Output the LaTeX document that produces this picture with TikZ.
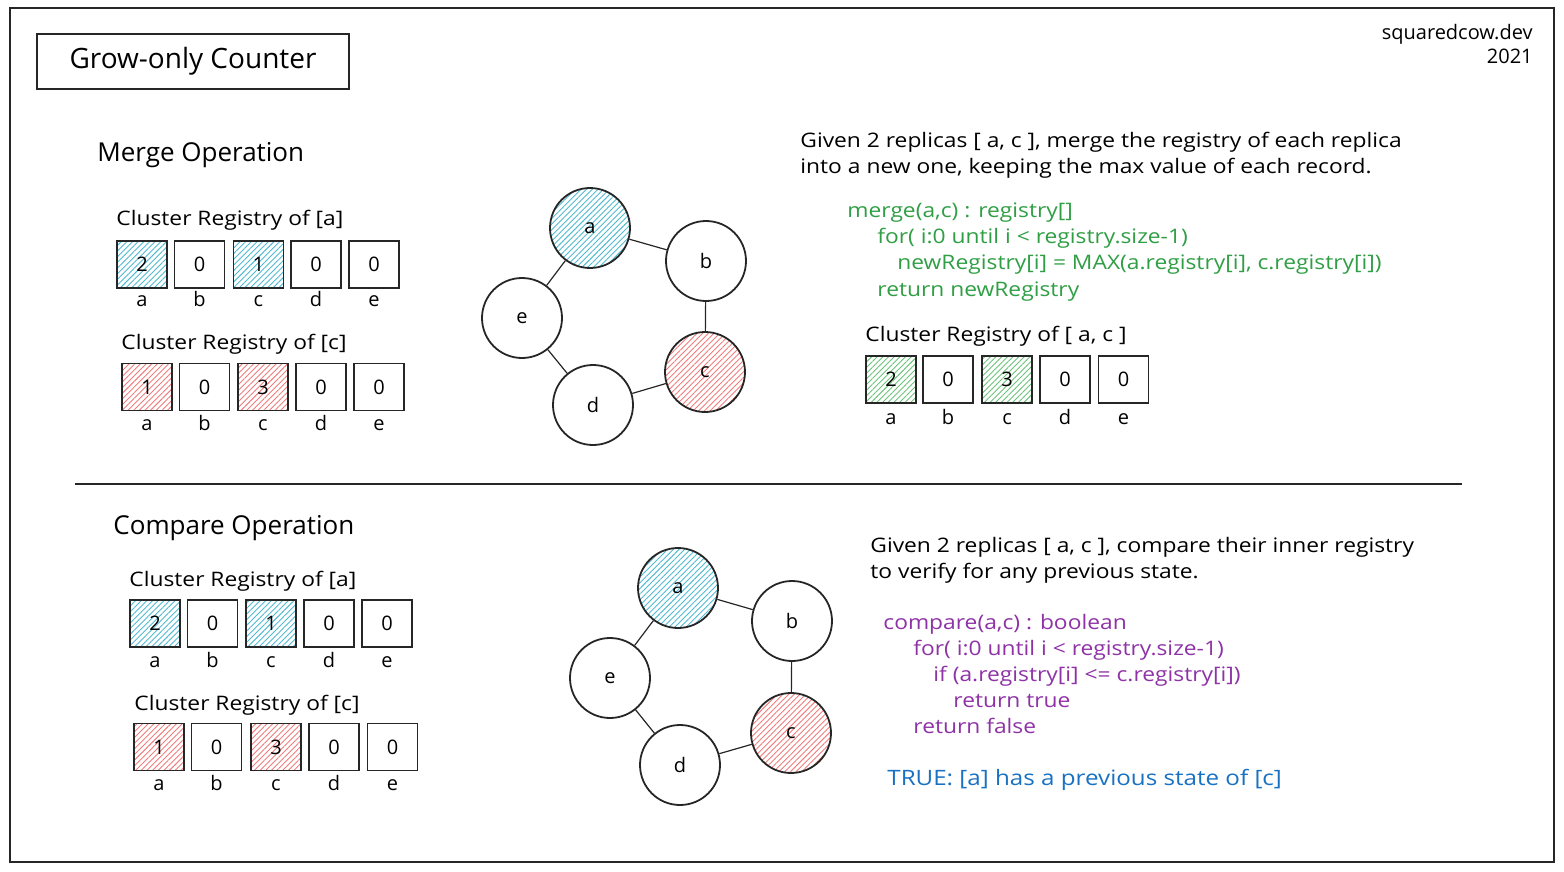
\documentclass[tikz,border=0pt]{standalone}
\usepackage{fontspec}
\setmainfont{Open Sans}
\newfontfamily\widefont{Open Sans}[FakeStretch=1.14]
\usetikzlibrary{patterns.meta}

\definecolor{hatchcyan}{HTML}{4FB9D1}
\definecolor{hatchred}{HTML}{F07C7C}
\definecolor{hatchgreen}{HTML}{6CC27A}
\definecolor{codegreen}{HTML}{2F9E44}
\definecolor{codepurple}{HTML}{8E32A6}
\definecolor{noteblue}{HTML}{1971C2}

\tikzset{
  sketch/.style={draw=black!85, line width=0.9pt},
  regbox/.style={sketch, minimum width=25pt, minimum height=23.5pt, inner sep=0pt, font=\fontsize{10}{12}\selectfont},
  hatch/.style={pattern={Lines[angle=45,distance=2pt,line width=0.45pt]}, pattern color=#1},
  replica/.style={sketch, circle, minimum size=40pt, inner sep=0pt, font=\fontsize{10}{12}\selectfont},
  idx/.style={anchor=base, font=\fontsize{10}{12}\selectfont},
  txt/.style={anchor=base west, inner sep=0pt, font=\widefont\fontsize{10}{12}\selectfont},
  heading/.style={anchor=base west, inner sep=0pt, font=\fontsize{13}{15}\selectfont},
  link/.style={draw=black!85, line width=0.6pt}
}

\begin{document}
\begin{tikzpicture}[x=0.5pt, y=-0.5pt]
		%%%%% START %%%%%
		\useasboundingbox (0, 0) rectangle (1564, 872);
		\draw[line width=0.9pt, black!85] (10, 8) rectangle (1554, 862);
		
		\node[sketch, minimum width=156pt, minimum height=27.5pt, font=\fontsize{14}{16}\selectfont] (title) at (193, 61.5) {Grow-only Counter};
		\node[anchor=base east, inner sep=0pt, font=\fontsize{10}{12}\selectfont] (site) at (1533, 40) {squaredcow.dev};
		\node[anchor=base east, inner sep=0pt, font=\fontsize{10}{12}\selectfont] (year) at (1533, 64) {2021};
		
		%%%%% MERGE %%%%%
		\node[heading] (mergehead) at (97, 162) {Merge Operation};
		
		\node[txt] (mregAtitle) at (116, 226) {Cluster Registry of [a]};
		\node[regbox, hatch=hatchcyan] (mA1) at (142, 264.5) {2};
		\node[regbox] (mA2) at (199.5, 264.5) {0};
		\node[regbox, hatch=hatchcyan] (mA3) at (258.5, 264.5) {1};
		\node[regbox] (mA4) at (316, 264.5) {0};
		\node[regbox] (mA5) at (374, 264.5) {0};
		\node[idx] (mAa) at (142, 306) {a};
		\node[idx] (mAb) at (199.5, 306) {b};
		\node[idx] (mAc) at (258.5, 306) {c};
		\node[idx] (mAd) at (316, 306) {d};
		\node[idx] (mAe) at (374, 306) {e};
		
		\node[txt] (mregCtitle) at (121, 349) {Cluster Registry of [c]};
		\node[regbox, hatch=hatchred] (mC1) at (147, 387) {1};
		\node[regbox] (mC2) at (204.5, 387) {0};
		\node[regbox, hatch=hatchred] (mC3) at (263, 387) {3};
		\node[regbox] (mC4) at (321, 387) {0};
		\node[regbox] (mC5) at (379, 387) {0};
		\node[idx] (mCa) at (147, 430) {a};
		\node[idx] (mCb) at (204.5, 430) {b};
		\node[idx] (mCc) at (263, 430) {c};
		\node[idx] (mCd) at (321, 430) {d};
		\node[idx] (mCe) at (379, 430) {e};
		
		\node[replica, hatch=hatchcyan] (ma) at (590, 228) {a};
		\node[replica] (mb) at (706, 261) {b};
		\node[replica, hatch=hatchred] (mc) at (705, 372) {c};
		\node[replica] (md) at (593, 405) {d};
		\node[replica] (me) at (522, 318) {e};
		\draw[link] (ma) -- (mb);
		\draw[link] (mb) -- (mc);
		\draw[link] (mc) -- (md);
		\draw[link] (md) -- (me);
		\draw[link] (me) -- (ma);
		
		\node[txt] (mgiven1) at (800, 148) {Given 2 replicas [ a, c ], merge the registry of each replica};
		\node[txt] (mgiven2) at (800, 174) {into a new one, keeping the max value of each record.};
		\node[txt, codegreen] (mcode1) at (847, 217) {merge(a,c) : registry[]};
		\node[txt, codegreen] (mcode2) at (877, 243) {for( i:0 until i < registry.size-1)};
		\node[txt, codegreen] (mcode3) at (897, 269) {newRegistry[i] = MAX(a.registry[i], c.registry[i])};
		\node[txt, codegreen] (mcode4) at (877, 296) {return newRegistry};
		
		\node[txt] (mregACtitle) at (865, 341) {Cluster Registry of [ a, c ]};
		\node[regbox, hatch=hatchgreen] (mR1) at (891, 379.5) {2};
		\node[regbox] (mR2) at (948, 379.5) {0};
		\node[regbox, hatch=hatchgreen] (mR3) at (1007, 379.5) {3};
		\node[regbox] (mR4) at (1065, 379.5) {0};
		\node[regbox] (mR5) at (1123.5, 379.5) {0};
		\node[idx] (mRa) at (891, 424) {a};
		\node[idx] (mRb) at (948, 424) {b};
		\node[idx] (mRc) at (1007, 424) {c};
		\node[idx] (mRd) at (1065, 424) {d};
		\node[idx] (mRe) at (1123.5, 424) {e};
		
		\draw[line width=0.9pt, black!85] (75, 484) -- (1462, 484);
		
		%%%%% COMPARE %%%%%
		\node[heading] (comphead) at (113, 534) {Compare Operation};
		
		\node[txt] (cregAtitle) at (129, 586) {Cluster Registry of [a]};
		\node[regbox, hatch=hatchcyan] (cA1) at (155, 623.5) {2};
		\node[regbox] (cA2) at (212.5, 623.5) {0};
		\node[regbox, hatch=hatchcyan] (cA3) at (271, 623.5) {1};
		\node[regbox] (cA4) at (329, 623.5) {0};
		\node[regbox] (cA5) at (387, 623.5) {0};
		\node[idx] (cAa) at (155, 667) {a};
		\node[idx] (cAb) at (212.5, 667) {b};
		\node[idx] (cAc) at (271, 667) {c};
		\node[idx] (cAd) at (329, 667) {d};
		\node[idx] (cAe) at (387, 667) {e};
		
		\node[txt] (cregCtitle) at (134, 710) {Cluster Registry of [c]};
		\node[regbox, hatch=hatchred] (cC1) at (159, 747) {1};
		\node[regbox] (cC2) at (216.5, 747) {0};
		\node[regbox, hatch=hatchred] (cC3) at (276, 747) {3};
		\node[regbox] (cC4) at (334, 747) {0};
		\node[regbox] (cC5) at (392.5, 747) {0};
		\node[idx] (cCa) at (159, 790) {a};
		\node[idx] (cCb) at (216.5, 790) {b};
		\node[idx] (cCc) at (276, 790) {c};
		\node[idx] (cCd) at (334, 790) {d};
		\node[idx] (cCe) at (392.5, 790) {e};
		
		\node[replica, hatch=hatchcyan] (ca) at (678, 588) {a};
		\node[replica] (cb) at (792, 621) {b};
		\node[replica, hatch=hatchred] (cc) at (791, 733) {c};
		\node[replica] (cd) at (680, 765) {d};
		\node[replica] (ce) at (610, 678) {e};
		\draw[link] (ca) -- (cb);
		\draw[link] (cb) -- (cc);
		\draw[link] (cc) -- (cd);
		\draw[link] (cd) -- (ce);
		\draw[link] (ce) -- (ca);
		
		\node[txt] (cgiven1) at (870, 552) {Given 2 replicas [ a, c ], compare their inner registry};
		\node[txt] (cgiven2) at (870, 578) {to verify for any previous state.};
		\node[txt, codepurple] (ccode1) at (883, 629) {compare(a,c) : boolean};
		\node[txt, codepurple] (ccode2) at (913, 655) {for( i:0 until i < registry.size-1)};
		\node[txt, codepurple] (ccode3) at (933, 681) {if (a.registry[i] <= c.registry[i])};
		\node[txt, codepurple] (ccode4) at (953, 707) {return true};
		\node[txt, codepurple] (ccode5) at (913, 733) {return false};
		\node[txt, noteblue, font=\widefont\fontsize{10.6}{12}\selectfont] (cresult) at (887, 785) {TRUE: [a] has a previous state of [c]};
		
		%%%%% END %%%%%
\end{tikzpicture}
\end{document}
